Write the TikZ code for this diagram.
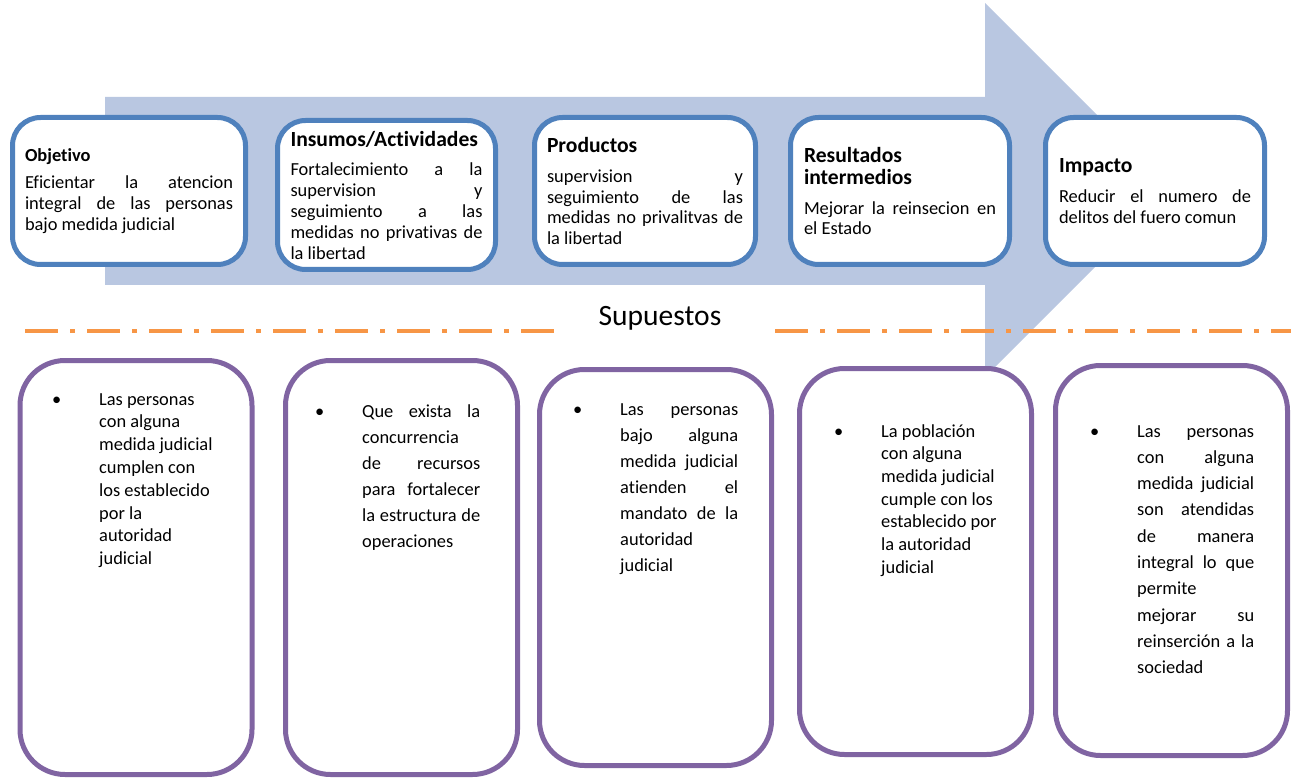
\documentclass[tikz,border=0pt]{standalone}
\usepackage{fontspec}
\setmainfont[Ligatures=NoCommon]{Carlito}
\definecolor{flechaazul}{RGB}{185,199,225}
\definecolor{bordeazul}{RGB}{79,129,189}
\definecolor{bordemorado}{RGB}{128,100,162}
\definecolor{naranja}{RGB}{247,150,70}

\begin{document}
\begin{tikzpicture}[x=1pt,y=-1pt,
  etapa/.style={draw=bordeazul,line width=5pt,fill=white,rounded corners=28pt,
    align=justify,inner xsep=0pt,inner ysep=0pt,font=\fontsize{18.4}{20.8}\selectfont},
  supuesto/.style={draw=bordemorado,line width=5pt,fill=white,rounded corners=45pt,
    minimum width=232pt},
  textosup/.style={anchor=base west,align=justify,inner sep=0pt},
  separador/.style={draw=naranja,line width=4pt,dash pattern=on 33pt off 12pt on 5pt off 12pt}]
  \useasboundingbox (0,0) rectangle (1291,778);
  \fill[flechaazul] (105,97) -- (985,97) -- (985,3) -- (1172,190) -- (985,377)
    -- (985,285) -- (105,285) -- cycle;
  \foreach \n/\cx/\cy/\w/\h/\tw/\ts/\sep/\titulo/\cuerpo in {
    obj/129/191/233/147/208/18.4/6/{Objetivo}/{Eficientar la atencion\linebreak integral de las personas\linebreak bajo medida judicial},
    ins/386.5/195/218/149/192/21.6/9/{Insumos/Actividades}/{Fortalecimiento a la\linebreak supervision y\linebreak seguimiento a las\linebreak medidas no privativas de\linebreak la libertad},
    prod/645/191/221/147/196/21.6/9/{Productos}/{supervision y\linebreak seguimiento de las\linebreak medidas no privalitvas de\linebreak la libertad},
    res/900/191/219/147/192/21.6/9/{Resultados\\intermedios}/{Mejorar la reinsecion en\linebreak el Estado},
    imp/1155/191/219/147/192/21.6/9/{Impacto}/{Reducir el numero de\linebreak delitos del fuero comun}
  }{
    \node[etapa,minimum width=\w pt,minimum height=\h pt,text width=\tw pt] (\n) at (\cx,\cy)
      {{\fontsize{\ts}{22}\selectfont\bfseries \titulo\par}\vspace{\sep pt}\cuerpo};
  }
  \draw[separador] (25,331) -- (556,331);
  \draw[separador] (775,331) -- (1291,331);
  \node[font=\fontsize{29.5}{30}\selectfont,anchor=base] (sup) at (660,325) {Supuestos};
  \foreach \n/\cx/\cy/\h/\tx/\ty/\tw/\ls/\texto in {
    sup1/136/567.5/414/99/405/130/22.8/{\raggedright Las personas\\con alguna\\medida judicial\\cumplen con\\los establecido\\por la\\autoridad\\judicial},
    sup2/401.5/567.5/414/362/417/118/26/{Que exista la\linebreak concurrencia\linebreak de recursos\linebreak para fortalecer\linebreak la estructura de\linebreak operaciones},
    sup3/655.5/567.5/396/620/415/118/26/{Las personas\linebreak bajo alguna\linebreak medida judicial\linebreak atienden el\linebreak mandato de la\linebreak autoridad\linebreak judicial},
    sup4/915.5/561.5/386/881/437/130/22.7/{\raggedright La población\\con alguna\\medida judicial\\cumple con los\\establecido por\\la autoridad\\judicial},
    sup5/1171.5/560.5/390/1137/437/117/26.3/{Las personas\linebreak con alguna\linebreak medida judicial\linebreak son atendidas\linebreak de manera\linebreak integral lo que\linebreak permite\linebreak mejorar su\linebreak reinserción a la\linebreak sociedad}
  }{
    \node[supuesto,minimum height=\h pt] (\n) at (\cx,\cy) {};
    \node[textosup,text width=\tw pt,font=\fontsize{18.4}{\ls}\selectfont] (\n-txt) at (\tx,\ty)
      {\llap{\makebox[47pt][l]{\textbullet}}\texto};
  }
\end{tikzpicture}
\end{document}
